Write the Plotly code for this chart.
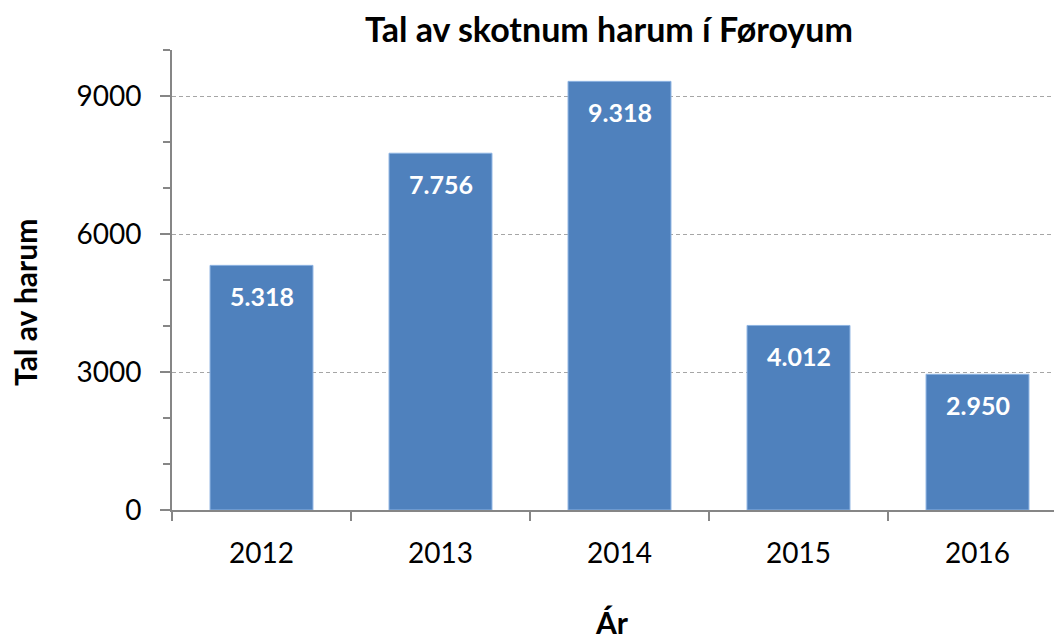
import plotly.graph_objects as go

years = ["2012", "2013", "2014", "2015", "2016"]
counts = [5318, 7756, 9318, 4012, 2950]
y_ticks = [0, 3000, 6000, 9000]

title_text = "Tal av skotnum harum í Føroyum"
y_title = "Tal av harum"
x_title = "Ár"

FONT = "Lato"
OFF = 8  # page body margin
W, H = 1062 - OFF, 639 - OFF
L = 172 - OFF
T = 50 - OFF
BOT = 510 - OFF
B = H - BOT
PW = W - L
PH = BOT - T

labels = [f"{v:,}".replace(",", ".") for v in counts]

fig = go.Figure()
fig.add_trace(go.Bar(
    x=years, y=counts, width=0.575,
    marker=dict(color="#4F81BD", line=dict(color="#8DB3E2", width=1)),
    hoverinfo="skip",
))

for i, (v, lab) in enumerate(zip(counts, labels)):
    fig.add_annotation(x=i, y=v, xref="x", yref="y", text=f"<b>{lab}</b>", showarrow=False,
                       yshift=-31, yanchor="middle", xanchor="center",
                       font=dict(family=FONT, size=25, color="white"))

fig.add_annotation(xref="paper", yref="paper", x=(25 - OFF - L) / PW, y=(BOT - (303 - OFF)) / PH,
                   text=f"<b>{y_title}</b>", textangle=-90, showarrow=False,
                   xanchor="center", yanchor="middle", borderpad=0,
                   font=dict(family=FONT, size=30, color="black"))
fig.add_annotation(xref="paper", yref="paper", x=(612 - OFF - L) / PW, y=(BOT - (622 - OFF)) / PH,
                   text=f"<b>{x_title}</b>", showarrow=False,
                   xanchor="center", yanchor="middle", borderpad=0,
                   font=dict(family=FONT, size=30, color="black"))

fig.update_layout(
    width=W, height=H,
    margin=dict(l=L, r=0, t=T, b=B, pad=0),
    paper_bgcolor="white", plot_bgcolor="white",
    showlegend=False,
    title=dict(text=f"<b>{title_text}</b>", x=(609 - OFF) / W, xref="container", xanchor="center",
               y=1 - (30 - OFF) / H, yref="container", yanchor="middle",
               font=dict(family=FONT, size=34, color="black")),
    xaxis=dict(
        type="category", range=[-0.5, 4.472],
        showline=True, linecolor="#868686", linewidth=2,
        ticks="outside", tickson="boundaries", ticklen=9, tickcolor="#868686", tickwidth=1.5,
        tickfont=dict(family=FONT, size=28, color="black"),
        ticklabelstandoff=17,
        showgrid=False, zeroline=False,
    ),
    yaxis=dict(
        range=[0, 10000], tickvals=y_ticks,
        showline=True, linecolor="#868686", linewidth=2,
        ticks="outside", ticklen=10, tickcolor="#868686", tickwidth=1.5,
        tickfont=dict(family=FONT, size=28, color="black"),
        ticklabelstandoff=13,
        showgrid=True, gridcolor="#A6A6A6", gridwidth=1, griddash="4px,3px",
        zeroline=False,
        minor=dict(dtick=1000, tick0=0, ticks="outside", ticklen=7, tickcolor="#868686",
                   tickwidth=1.5, showgrid=False),
    ),
)

fig.write_html("out.html")
